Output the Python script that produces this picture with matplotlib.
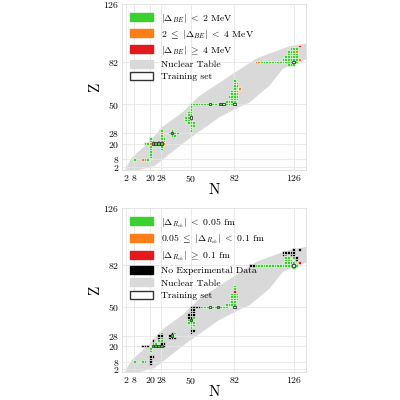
import matplotlib
matplotlib.use("Agg")
import matplotlib.pyplot as plt
from matplotlib.patches import Patch, Rectangle

plt.rcParams["font.family"] = "cmr10"
plt.rcParams["mathtext.fontset"] = "cm"
plt.rcParams["axes.formatter.use_mathtext"] = True

# ── Nuclear table outline (N, Z) ───────────────────────────────────────
TABLE_N = [1, 6, 19, 28, 44, 56, 81, 99, 123, 135, 135, 118, 108, 93, 86, 71, 49, 34, 23, 12, 2]
TABLE_Z = [0, 9, 21, 32, 44, 56, 73, 85, 94, 96, 84, 77, 64, 51, 48, 40, 24, 12, 3, 0, 0]

MAGIC = [2, 8, 20, 28, 50, 82, 126]

# ── Binding energy panel ──────────────────────────────────────────────
BE_GREEN = [
    (8, 8), (16, 8), (18, 8),
    (16, 20), (18, 20), (20, 20), (22, 20), (24, 20), (26, 20), (28, 20), (30, 20),
    (20, 10), (20, 12), (20, 14), (20, 16), (20, 18), (20, 22), (20, 24), (22, 22),
    (28, 16), (28, 18), (28, 22), (28, 24), (28, 26), (28, 28), (28, 30), (26, 22), (30, 22), (30, 24),
    (36, 26), (36, 28), (36, 30), (38, 28), (38, 26), (40, 28), (34, 28),
    (46, 38), (46, 40), (48, 36), (48, 38), (48, 40), (48, 42), (48, 44), (50, 30), (50, 32),
    (50, 34), (50, 36), (50, 38), (50, 42), (50, 44), (50, 46), (50, 48), (50, 50), (52, 34), (52, 36),
    (52, 50), (54, 50), (56, 50), (58, 50), (60, 50), (62, 50), (66, 50), (68, 50), (72, 50),
    (76, 50), (78, 50), (80, 50), (76, 52), (78, 52), (80, 52),
    (80, 54), (80, 56), (80, 58), (80, 60), (82, 52), (82, 54), (82, 56), (82, 58), (82, 60),
    (82, 62), (82, 64), (82, 66), (82, 68), (84, 54), (84, 56), (84, 60), (84, 64), (78, 56),
    (102, 82), (104, 82), (106, 82), (108, 82), (110, 82), (112, 82), (114, 82), (116, 82),
    (118, 82), (120, 82), (122, 82), (124, 82), (128, 82), (126, 80), (124, 80), (122, 80),
    (118, 84), (120, 84), (122, 84), (124, 84), (126, 84), (128, 84), (120, 86), (122, 86),
    (124, 86), (126, 86), (128, 86), (122, 88), (124, 88), (126, 88), (128, 88), (122, 90),
    (124, 90), (126, 90), (124, 92), (126, 92), (128, 92),
]
BE_ORANGE = [(14, 8), (20, 20), (30, 20), (28, 28), (84, 58), (86, 62), (84, 66),
             (98, 82), (100, 82), (128, 90), (130, 84)]
BE_RED = [(130, 94)]

# ── Charge radius panel ───────────────────────────────────────────────
RC_GREEN = [
    (8, 8), (14, 8), (16, 8),
    (20, 16), (20, 18), (22, 20), (22, 22), (24, 20), (24, 22), (26, 20), (26, 24),
    (28, 20), (28, 24), (28, 26), (28, 30), (36, 28), (38, 30),
    (48, 38), (48, 40), (50, 34), (50, 36), (50, 38), (50, 40), (52, 36), (52, 38), (52, 42),
    (58, 50), (60, 50), (62, 50), (66, 50), (68, 50), (70, 50), (72, 50), (74, 50), (76, 50),
    (76, 52), (78, 52), (80, 52), (80, 54), (80, 56), (80, 58), (80, 60), (82, 52), (82, 54),
    (82, 56), (82, 58), (82, 60), (82, 64), (82, 66), (84, 56), (84, 58), (84, 60),
    (98, 82), (100, 82), (102, 82), (104, 82), (106, 82), (108, 82), (110, 82), (112, 82),
    (114, 82), (116, 82), (118, 82), (120, 82), (122, 82), (124, 82), (128, 82), (126, 80),
    (120, 84), (122, 84), (124, 84), (126, 84), (120, 86), (122, 86), (124, 86),
    (120, 88), (122, 88), (126, 88), (120, 90),
]
RC_ORANGE = []
RC_RED = [(82, 62), (130, 84)]
RC_BLACK = [
    (14, 20), (16, 20), (18, 20), (20, 6), (20, 8), (20, 10), (20, 12), (22, 12), (22, 24),
    (28, 22), (28, 28), (30, 20), (30, 22), (26, 26), (26, 28),
    (34, 26), (34, 28), (36, 26), (38, 26), (36, 30),
    (48, 42), (48, 44), (50, 30), (50, 32), (50, 42), (50, 44), (50, 46), (50, 48), (50, 50),
    (52, 32), (52, 44), (52, 46), (52, 48), (52, 50), (54, 50), (56, 50),
    (94, 82), (96, 82), (118, 90), (118, 92), (120, 92), (122, 92), (124, 92), (126, 92),
    (126, 94), (124, 90), (126, 90), (128, 88), (128, 86), (130, 94),
]
RC_TRAIN = [(22, 20), (24, 20), (26, 20), (28, 20), (36, 28), (50, 40), (64, 50),
            (70, 50), (82, 50), (126, 82)]
BE_TRAIN = [(22, 20), (24, 20), (26, 20), (28, 20), (36, 28), (50, 40), (64, 50),
            (72, 50), (74, 50), (82, 50), (126, 82)]

GREEN, ORANGE, RED, GRAY = "#3ad12f", "#fb7f16", "#e3191c", "#d9d9d9"


def cells(ax, pts, color):
    for n, z in pts:
        ax.add_patch(Rectangle((n - 1, z - 1), 2, 2, facecolor=color,
                               edgecolor="white", linewidth=0.4, zorder=3))


def training(ax, pts):
    for n, z in pts:
        ax.add_patch(Rectangle((n - 1, z - 1), 2, 2, facecolor="none",
                               edgecolor="#333333", linewidth=0.6, zorder=4))


def setup(ax, handles):
    ax.fill(TABLE_N, TABLE_Z, color=GRAY, lw=0, zorder=1)
    ax.set_xlim(-1, 135)
    ax.set_ylim(0, 126)
    ax.set_xticks(MAGIC)
    ax.set_yticks(MAGIC)
    ax.tick_params(labelsize=7, length=0, pad=2)
    ax.grid(color="#e6e6e6", linewidth=0.6, zorder=2)
    ax.set_axisbelow(False)
    for s in ax.spines.values():
        s.set_color("#dddddd")
        s.set_linewidth(0.6)
    ax.set_xlabel("N", fontsize=11, labelpad=0)
    ax.set_ylabel("Z", fontsize=11, labelpad=1)
    ax.legend(handles=handles, loc="upper left", frameon=False, fontsize=7,
              handlelength=2.4, handleheight=0.9, borderaxespad=0.4, labelspacing=0.3)


fig = plt.figure(figsize=(4, 4), dpi=100)
ax1 = fig.add_axes([0.305, 0.575, 0.46, 0.415])
ax2 = fig.add_axes([0.305, 0.07, 0.46, 0.41])

cells(ax1, BE_GREEN, GREEN)
cells(ax1, BE_ORANGE, ORANGE)
cells(ax1, BE_RED, RED)
training(ax1, BE_TRAIN)
setup(ax1, [
    Patch(color=GREEN, label=r"$|\Delta_{BE}|\ <\ 2$ MeV"),
    Patch(color=ORANGE, label=r"$2\ \leq\ |\Delta_{BE}|\ <\ 4$ MeV"),
    Patch(color=RED, label=r"$|\Delta_{BE}|\ \geq\ 4$ MeV"),
    Patch(color=GRAY, label="Nuclear Table"),
    Patch(facecolor="white", edgecolor="#333333", label="Training set"),
])

cells(ax2, RC_GREEN, GREEN)
cells(ax2, RC_ORANGE, ORANGE)
cells(ax2, RC_RED, RED)
cells(ax2, RC_BLACK, "black")
training(ax2, RC_TRAIN)
setup(ax2, [
    Patch(color=GREEN, label=r"$|\Delta_{R_{ch}}|\ <\ 0.05$ fm"),
    Patch(color=ORANGE, label=r"$0.05\ \leq\ |\Delta_{R_{ch}}|\ <\ 0.1$ fm"),
    Patch(color=RED, label=r"$|\Delta_{R_{ch}}|\ \geq\ 0.1$ fm"),
    Patch(color="black", label="No Experimental Data"),
    Patch(color=GRAY, label="Nuclear Table"),
    Patch(facecolor="white", edgecolor="#333333", label="Training set"),
])

fig.savefig("out.png", dpi=100)
